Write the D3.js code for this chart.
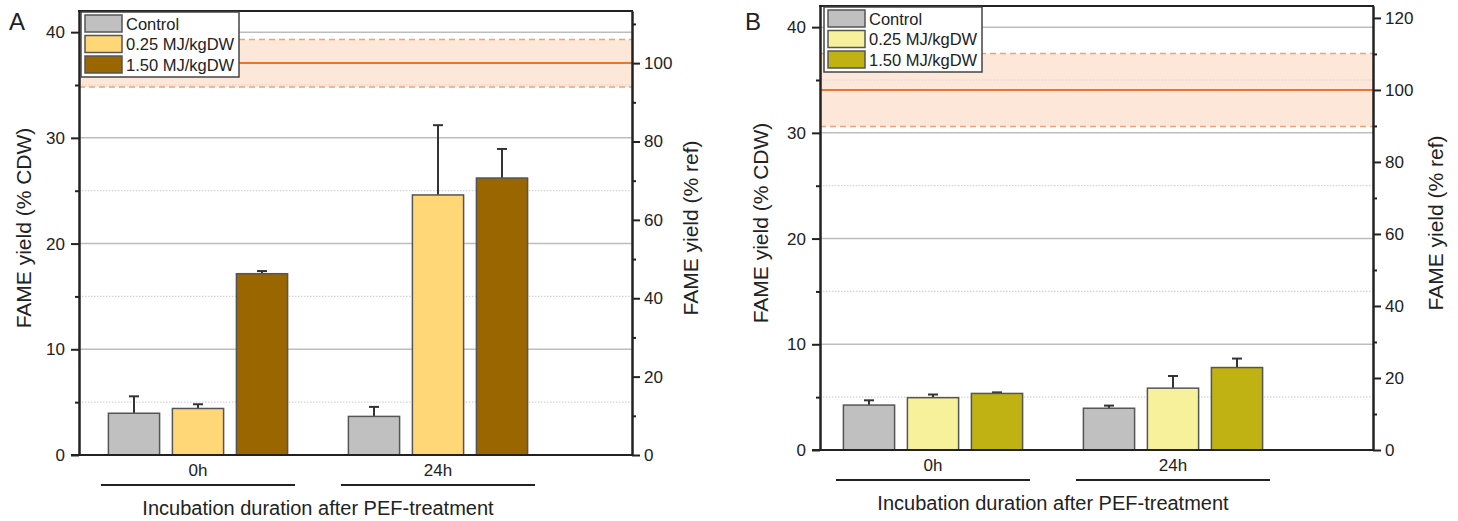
<!DOCTYPE html>
<meta charset="utf-8">
<style>
  body { margin: 0; background: #fff; }
  text { font-family: "Liberation Sans", Arial, sans-serif; fill: #222; }
</style>
<script src="https://d3js.org/d3.v7.min.js"></script>
<div id="chart"></div>
<script>

// data (left axis, % CDW)
var groups = ["0h", "24h"];
var treatments = ["Control", "0.25 MJ/kgDW", "1.50 MJ/kgDW"];
var meansA = [[3.95, 4.4, 17.15], [3.65, 24.6, 26.2]];
var errA   = [[1.6, 0.4, 0.25], [0.9, 6.6, 2.75]];
var meansB = [[4.25, 4.95, 5.35], [3.95, 5.85, 7.8]];
var errB   = [[0.45, 0.3, 0.1], [0.25, 1.15, 0.85]];
// reference yield: [lower, mean, upper]
var refA = [34.8, 37.07, 39.3];
var refB = [30.6, 34.06, 37.5];
var leftTicks = [0, 10, 20, 30, 40];
var leftMinor = [5, 15, 25, 35];
var rightTicksA = [0, 20, 40, 60, 80, 100];
var rightTicksB = [0, 20, 40, 60, 80, 100, 120];
var colorsA = ["#c0c0c0", "#ffd777", "#996600"];
var colorsB = ["#c0c0c0", "#f7f19c", "#bfb212"];

var svg = d3.select("#chart").append("svg")
  .attr("width", 1458)
  .attr("height", 521);

function drawPanel(o) {
  var g = svg.append("g");
  var yMax = 42;

  var y = d3.scaleLinear().domain([0, yMax]).range([o.bottom, o.top]);
  var yr = d3.scaleLinear().domain([0, yMax / o.ref[1] * 100]).range([o.bottom, o.top]);
  var xg = d3.scalePoint().domain(groups).range([o.left + o.g0, o.left + o.g1]);
  var xi = d3.scaleBand().domain(treatments).range([-96, 96])
    .paddingInner(0.2).paddingOuter(0.1);

  // reference band
  g.append("rect")
    .attr("x", o.left).attr("width", o.right - o.left)
    .attr("y", y(o.ref[2])).attr("height", y(o.ref[0]) - y(o.ref[2]))
    .attr("fill", "#fde7d8");

  // grid
  g.selectAll(".gmaj").data(leftTicks.slice(1)).enter().append("line")
    .attr("x1", o.left).attr("x2", o.right)
    .attr("y1", function(d) { return y(d); }).attr("y2", function(d) { return y(d); })
    .attr("stroke", "#bdbdbd").attr("stroke-width", 1.5);
  g.selectAll(".gmin").data(leftMinor).enter().append("line")
    .attr("x1", o.left).attr("x2", o.right)
    .attr("y1", function(d) { return y(d); }).attr("y2", function(d) { return y(d); })
    .attr("stroke", "#d4d4d4").attr("stroke-width", 1.2).attr("stroke-dasharray", "1.5,1.5");

  // reference lines
  g.selectAll(".rdash").data([o.ref[0], o.ref[2]]).enter().append("line")
    .attr("x1", o.left).attr("x2", o.right)
    .attr("y1", function(d) { return y(d); }).attr("y2", function(d) { return y(d); })
    .attr("stroke", "#f1a273").attr("stroke-width", 1.5).attr("stroke-dasharray", "6,4");
  g.append("line")
    .attr("x1", o.left).attr("x2", o.right)
    .attr("y1", y(o.ref[1])).attr("y2", y(o.ref[1]))
    .attr("stroke", "#e8772e").attr("stroke-width", 2);

  // bars
  var rows = [];
  groups.forEach(function(gr, i) {
    treatments.forEach(function(t, j) {
      rows.push({ group: gr, t: t, j: j, v: o.means[i][j], e: o.errs[i][j] });
    });
  });

  // error bars (upper only)
  g.selectAll(".err").data(rows).enter().append("line")
    .attr("x1", function(d) { return xg(d.group) + xi(d.t) + xi.bandwidth() / 2; })
    .attr("x2", function(d) { return xg(d.group) + xi(d.t) + xi.bandwidth() / 2; })
    .attr("y1", function(d) { return y(d.v); })
    .attr("y2", function(d) { return y(d.v + d.e); })
    .attr("stroke", "#333").attr("stroke-width", 2);
  g.selectAll(".cap").data(rows).enter().append("line")
    .attr("x1", function(d) { return xg(d.group) + xi(d.t) + xi.bandwidth() / 2 - 5; })
    .attr("x2", function(d) { return xg(d.group) + xi(d.t) + xi.bandwidth() / 2 + 5; })
    .attr("y1", function(d) { return y(d.v + d.e); })
    .attr("y2", function(d) { return y(d.v + d.e); })
    .attr("stroke", "#333").attr("stroke-width", 2);

  g.selectAll(".bar").data(rows).enter().append("rect")
    .attr("x", function(d) { return xg(d.group) + xi(d.t); })
    .attr("width", xi.bandwidth())
    .attr("y", function(d) { return y(d.v); })
    .attr("height", function(d) { return y(0) - y(d.v); })
    .attr("fill", function(d) { return o.colors[d.j]; })
    .attr("stroke", "#555").attr("stroke-width", 1.5);

  // axes
  var fs = "17px";
  var la = g.append("g").attr("transform", "translate(" + o.left + ",0)")
    .call(d3.axisLeft(y).tickValues(leftTicks).tickSize(8).tickSizeOuter(0).tickPadding(6));
  g.append("g").attr("transform", "translate(" + o.left + ",0)")
    .call(d3.axisLeft(y).tickValues(leftMinor).tickSize(4).tickSizeOuter(0).tickFormat(""));
  var ra = g.append("g").attr("transform", "translate(" + o.right + ",0)")
    .call(d3.axisRight(yr).tickValues(o.rticks).tickSize(8).tickSizeOuter(0).tickPadding(4));
  g.append("g").attr("transform", "translate(" + o.right + ",0)")
    .call(d3.axisRight(yr).tickValues(o.rticks.map(function(d) { return d + 10; })
      .filter(function(d) { return d < yr.domain()[1]; }))
      .tickSize(4).tickSizeOuter(0).tickFormat(""));
  g.selectAll(".domain, .tick line").attr("stroke", "#222").attr("stroke-width", 2);
  [la, ra].forEach(function(a) {
    a.selectAll("text").style("font-size", fs)
      .style("font-family", "Liberation Sans, Arial, sans-serif").attr("fill", "#222");
  });

  // frame top and bottom
  g.append("line").attr("x1", o.left - 1).attr("x2", o.right + 1)
    .attr("y1", o.top).attr("y2", o.top).attr("stroke", "#222").attr("stroke-width", 2);
  g.append("line").attr("x1", o.left - 8).attr("x2", o.right + 1)
    .attr("y1", o.bottom).attr("y2", o.bottom).attr("stroke", "#222").attr("stroke-width", 2);

  // category labels and underlines
  g.selectAll(".cat").data(groups).enter().append("text")
    .attr("x", function(d) { return xg(d); })
    .attr("y", o.bottom + 21)
    .attr("text-anchor", "middle").style("font-size", fs)
    .text(function(d) { return d; });
  g.selectAll(".uline").data(groups).enter().append("line")
    .attr("x1", function(d) { return xg(d) - 97; })
    .attr("x2", function(d) { return xg(d) + 97; })
    .attr("y1", o.bottom + 30).attr("y2", o.bottom + 30)
    .attr("stroke", "#222").attr("stroke-width", 2);

  g.append("text")
    .attr("x", (xg(groups[0]) + xg(groups[1])) / 2)
    .attr("y", o.bottom + 60)
    .attr("text-anchor", "middle").style("font-size", "20px")
    .text("Incubation duration after PEF-treatment");

  // axis titles
  var cy = (o.top + o.bottom) / 2 - 5;
  g.append("text")
    .attr("transform", "translate(" + (o.left - o.ltx) + "," + cy + ") rotate(-90)")
    .attr("text-anchor", "middle").style("font-size", "21px")
    .text("FAME yield (% CDW)");
  g.append("text")
    .attr("transform", "translate(" + (o.right + o.rtx) + "," + cy + ") rotate(-90)")
    .attr("text-anchor", "middle").style("font-size", "21px")
    .text("FAME yield (% ref)");

  // panel letter
  g.append("text").attr("x", o.lx).attr("y", 30)
    .style("font-size", "24px").text(o.label);

  // legend
  var lg = g.append("g").attr("transform", "translate(" + (o.left + o.legDx) + "," + (o.top + 1) + ")");
  lg.append("rect").attr("width", 158).attr("height", 65)
    .attr("fill", "#fff").attr("stroke", "#444").attr("stroke-width", 1.5);
  var items = lg.selectAll(".li").data(treatments).enter().append("g")
    .attr("transform", function(d, i) { return "translate(4," + (3 + i * 20.5) + ")"; });
  items.append("rect").attr("width", 37).attr("height", 17)
    .attr("fill", function(d, i) { return o.colors[i]; })
    .attr("stroke", "#555").attr("stroke-width", 1.5);
  items.append("text").attr("x", 41).attr("y", 14.5)
    .style("font-size", "16.5px").text(function(d) { return d; });
}

drawPanel({ label: "A", left: 79, right: 632, top: 11, bottom: 455, g0: 119, g1: 359,
  means: meansA, errs: errA, ref: refA, colors: colorsA, rticks: rightTicksA,
  ltx: 48, rtx: 66, lx: 9, legDx: 2 });
drawPanel({ label: "B", left: 820, right: 1373, top: 6, bottom: 450, g0: 113, g1: 353,
  means: meansB, errs: errB, ref: refB, colors: colorsB, rticks: rightTicksB,
  ltx: 52, rtx: 70, lx: 745, legDx: 4 });

</script>
